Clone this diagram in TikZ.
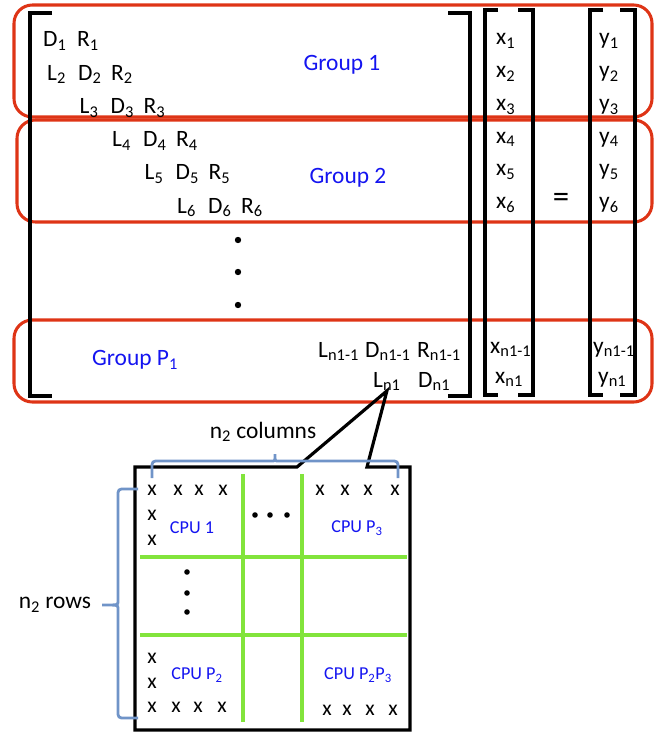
\documentclass[tikz,border=0pt]{standalone}
\usepackage{fontspec}
\setmainfont{Carlito}
\usetikzlibrary{positioning}
\definecolor{grpred}{RGB}{222,52,22}
\definecolor{grpblue}{RGB}{20,20,240}
\definecolor{partgreen}{RGB}{130,228,60}
\definecolor{braceblue}{RGB}{112,148,200}
\newcommand{\lo}[1]{\textsubscript{#1}}

\begin{document}
\begin{tikzpicture}[x=0.03cm, y=-0.03cm,
    ent/.style={inner sep=0pt, font=\fontsize{20}{24}\selectfont},
    lbl/.style={inner sep=0pt, font=\fontsize{20}{24}\selectfont, text=grpblue},
    cpu/.style={inner sep=0pt, font=\fontsize{15.5}{18}\selectfont, text=grpblue},
    xmark/.style={inner sep=0pt, font=\fontsize{18.5}{20}\selectfont},
    grp/.style={draw=grpred, line width=2.6pt, rounded corners=0.55cm},
    brk/.style={draw, line width=2.7pt},
    part/.style={draw=partgreen, line width=2.8pt},
    brc/.style={draw=braceblue, line width=2.4pt, rounded corners=3pt},
]
\useasboundingbox (0,0) rectangle (658,733);

% groups of rows
\draw[grp] (14,5) rectangle (652,117);
\draw[grp] (17,120) rectangle (652,222);
\draw[grp] (14,320) rectangle (652,402);

% brackets
\draw[brk] (52,13) -- (30,13) -- (30,396) -- (52,396);
\draw[brk] (448,13) -- (470,13) -- (470,396) -- (448,396);
\draw[brk] (498,10) -- (485,10) -- (485,395) -- (498,395);
\draw[brk] (518,10) -- (533,10) -- (533,395) -- (518,395);
\draw[brk] (603,10) -- (590,10) -- (590,395) -- (603,395);
\draw[brk] (620,10) -- (635,10) -- (635,395) -- (620,395);

% tridiagonal matrix
\node[ent, anchor=base west] (D1) at (43,47) {D\lo{1}};
\node[ent, anchor=base west] (R1) at (77,47) {R\lo{1}};
\foreach \i in {2,...,6} {
  \pgfmathsetmacro\px{47+(\i-2)*32.5}
  \pgfmathsetmacro\py{47+(\i-1)*33.2}
  \node[ent, anchor=base west] (L\i) at (\px,\py) {L\lo{\i}};
  \node[ent, anchor=base west] (D\i) at (\px+31,\py) {D\lo{\i}};
  \node[ent, anchor=base west] (R\i) at (\px+64,\py) {R\lo{\i}};
}
\foreach \i in {1,...,6} {
  \pgfmathsetmacro\py{45+(\i-1)*32.7}
  \node[ent, anchor=base west] (x\i) at (496,\py) {x\lo{\i}};
  \node[ent, anchor=base west] (y\i) at (599,\py) {y\lo{\i}};
}
\node[ent, anchor=base west] (Lm) at (318,357) {L\lo{n1-1}};
\node[ent, anchor=base west] (Dm) at (365,357) {D\lo{n1-1}};
\node[ent, anchor=base west] (Rm) at (417,357) {R\lo{n1-1}};
\node[ent, anchor=base west] (Ln) at (373,387) {L\lo{n1}};
\node[ent, anchor=base west] (Dn) at (418,387) {D\lo{n1}};
\node[ent, anchor=base west] (xm) at (490,353) {x\lo{n1-1}};
\node[ent, anchor=base west] (xn) at (495,383) {x\lo{n1}};
\node[ent, anchor=base west] (ym) at (593,353) {y\lo{n1-1}};
\node[ent, anchor=base west] (yn) at (598,383) {y\lo{n1}};
\node[ent, font=\fontsize{28}{30}\selectfont] (eq) at (561,200) {=};
\foreach \yy in {240,272,305} \fill (238,\yy) circle (3.2);

\node[lbl] (g1) at (342,65) {Group 1};
\node[lbl] (g2) at (348,178) {Group 2};
\node[lbl] (gp) at (135,360) {Group P\lo{1}};

% block of the last group, zoomed
\coordinate (tl) at (135,467);
\coordinate (nl) at (297,467);
\coordinate (nr) at (367,467);
\coordinate (tr) at (410,467);
\coordinate (br) at (410,730);
\coordinate (bl) at (135,730);
\draw[part] (243,474) -- (243,722);
\draw[part] (302,474) -- (302,722);
\draw[part] (140,557) -- (407,557);
\draw[part] (140,635) -- (407,635);
\draw[brk, line join=miter] (nl) -- (Ln.south) -- (nr) -- (tr) -- (br) -- (bl) -- (tl) -- cycle;

\foreach \xx [count=\k] in {152,178,199,223} \node[xmark] (a\k) at (\xx,490) {x};
\node[xmark] (a5) at (152,515) {x};
\node[xmark] (a6) at (152,540) {x};
\foreach \xx [count=\k] in {320,345,368,395} \node[xmark] (b\k) at (\xx,490) {x};
\node[xmark] (c5) at (152,658) {x};
\node[xmark] (c6) at (152,683) {x};
\foreach \xx [count=\k] in {152,176,198,222} \node[xmark] (c\k) at (\xx,707) {x};
\foreach \xx [count=\k] in {327,347,370,393} \node[xmark] (d\k) at (\xx,710) {x};
\foreach \xx in {255,270,287} \fill (\xx,515) circle (2.8);
\foreach \yy in {572,593,612} \fill (187,\yy) circle (2.8);

\node[cpu] (cpu1) at (192,528) {CPU 1};
\node[cpu] (cpuc) at (357,528) {CPU P\lo{3}};
\node[cpu] (cpur) at (197,675) {CPU P\lo{2}};
\node[cpu] (cpurc) at (358,675) {CPU P\lo{2}P\lo{3}};

% braces
\draw[brc] (152,478) -- (152,461) -- (268,461) .. controls (275,461) .. (275,452)
  .. controls (275,461) .. (282,461) -- (398,461) -- (398,478);
\draw[brc] (138,489) -- (118,489) -- (118,598) .. controls (118,605) .. (100,605)
  .. controls (118,605) .. (118,612) -- (118,718) -- (138,718);
\node[ent] (ncol) at (263,432) {n\lo{2} columns};
\node[ent] (nrow) at (55,605) {n\lo{2} rows};
\end{tikzpicture}
\end{document}
